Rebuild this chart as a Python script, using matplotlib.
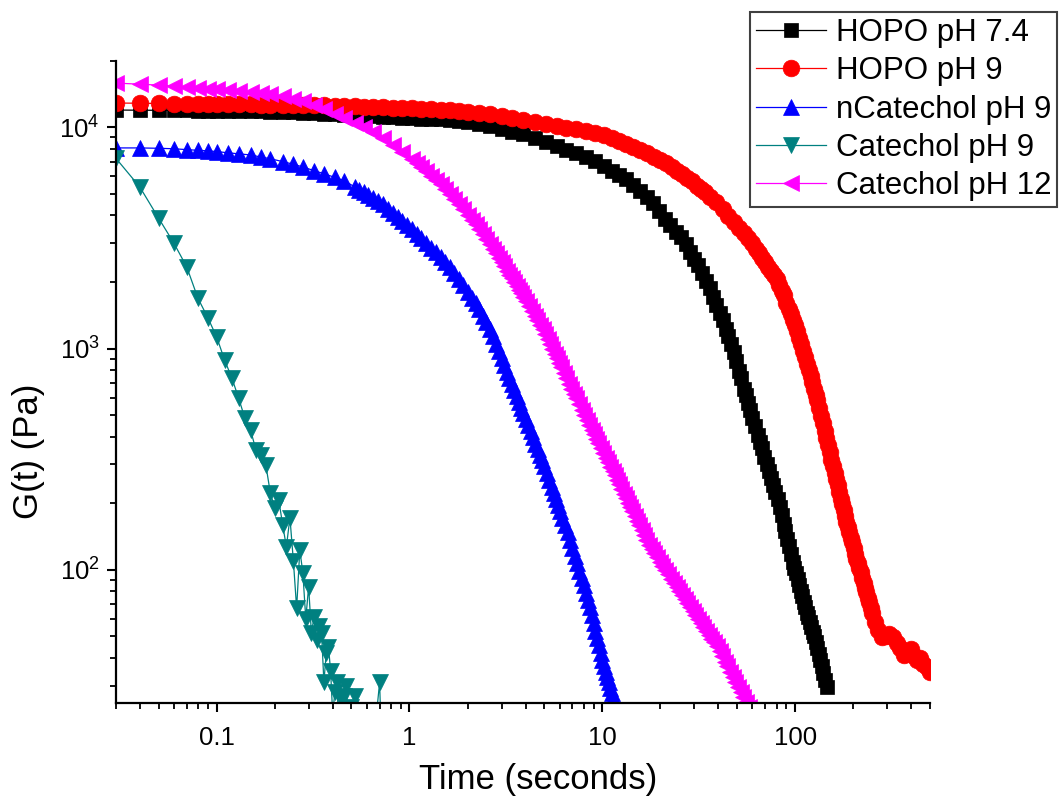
import matplotlib
matplotlib.use('Agg')
import matplotlib.pyplot as plt
from matplotlib.ticker import FixedLocator, FixedFormatter, LogLocator, NullFormatter

plt.rcParams['font.family'] = ['Liberation Sans', 'DejaVu Sans']
plt.rcParams['mathtext.fontset'] = 'custom'
plt.rcParams['mathtext.rm'] = 'Liberation Sans'
plt.rcParams['mathtext.it'] = 'Liberation Sans:italic'
plt.rcParams['mathtext.bf'] = 'Liberation Sans:bold'

# ---------------- data: (time in s, G(t) in Pa) ----------------
hopo_ph74 = [
    (0.03, 11970), (0.04, 11950), (0.05, 11940), (0.06, 11930), (0.07, 11920), (0.08, 11900),
    (0.09, 11890), (0.10, 11880), (0.115, 11860), (0.13, 11840), (0.15, 11820), (0.17, 11800),
    (0.19, 11780), (0.22, 11740), (0.25, 11690), (0.28, 11640), (0.32, 11590), (0.36, 11540),
    (0.41, 11480), (0.46, 11420), (0.52, 11360), (0.58, 11300), (0.65, 11240), (0.73, 11180),
    (0.82, 11110), (0.92, 11060), (1.03, 11010), (1.15, 10960), (1.3, 10920), (1.45, 10870),
    (1.62, 10790), (1.8, 10700), (2.0, 10600), (2.3, 10360), (2.6, 10120), (3.0, 9820),
    (3.4, 9570), (3.9, 9290), (4.5, 8950), (5.1, 8590), (5.8, 8230), (6.5, 7920), (7.3, 7620),
    (8.2, 7330), (9.2, 7030), (10.2, 6720), (11.2, 6380), (12.2, 6090), (13.3, 5810), (14.5, 5480),
    (15.7, 5160), (17, 4850), (18.3, 4540), (19.7, 4180), (21.1, 3870), (22.5, 3600), (24, 3380),
    (25.5, 3180), (27, 2960), (28.5, 2740), (30, 2550), (31.5, 2380), (33, 2190), (34.5, 2020),
    (36, 1870), (37.5, 1710), (39, 1570), (40.5, 1450), (42, 1340), (43.5, 1230), (45, 1140),
    (46.5, 1050), (48, 966), (49.5, 875), (51, 794), (52.5, 733), (54, 656), (55.5, 618),
    (57, 568), (58.5, 525), (60, 488), (62, 446), (64, 405), (65.5, 380), (67, 354), (69, 325),
    (71, 301), (73, 279), (75, 259), (77, 242), (79, 225), (81, 210), (83, 192), (85, 177),
    (87, 161), (89, 150), (91, 138), (93, 128), (95, 118), (97, 109), (99, 102), (101, 96.6),
    (103, 90.6), (105, 85.3), (107, 80.5), (109, 76), (111, 71.8), (113, 67.8), (115, 64),
    (117, 61), (119, 57.9), (121, 55), (123, 52.5), (125, 50), (127.5, 47.3), (130, 44.5),
    (132.5, 41.7), (135, 39), (137.5, 36.6), (140, 34.3), (143, 31.9), (146, 29.6),
]

hopo_ph9 = [
    (0.03, 12880), (0.04, 12850), (0.05, 12820), (0.06, 12800), (0.07, 12780), (0.08, 12760),
    (0.09, 12740), (0.10, 12730), (0.115, 12710), (0.13, 12700), (0.15, 12690), (0.17, 12680),
    (0.19, 12670), (0.22, 12660), (0.25, 12640), (0.28, 12620), (0.32, 12590), (0.36, 12560),
    (0.41, 12520), (0.46, 12480), (0.52, 12440), (0.58, 12400), (0.65, 12370), (0.73, 12330),
    (0.82, 12280), (0.92, 12230), (1.03, 12180), (1.15, 12140), (1.3, 12100), (1.45, 12030),
    (1.62, 11940), (1.8, 11850), (2.0, 11760), (2.3, 11620), (2.6, 11430), (3.0, 11200),
    (3.4, 11000), (3.9, 10790), (4.5, 10560), (5.1, 10350), (5.8, 10160), (6.5, 9980),
    (7.3, 9790), (8.2, 9620), (9.2, 9420), (10.2, 9190), (11.2, 8910), (12.2, 8670),
    (13.3, 8430), (14.5, 8170), (15.7, 7910), (17, 7640), (18.5, 7380), (20, 7140),
    (21.5, 6930), (23, 6640), (24.5, 6380), (26, 6140), (27.5, 5930), (29, 5710), (31, 5430),
    (32.5, 5250), (34, 5080), (36, 4860), (39, 4580), (42, 4280), (45, 3990), (48, 3750),
    (51, 3520), (54, 3340), (57, 3160), (60, 2990), (62.5, 2830), (65, 2690), (67.5, 2570),
    (70, 2450), (72.5, 2340), (75, 2240), (77.5, 2150), (80, 2060), (82.5, 1940), (85, 1820),
    (87.5, 1740), (90, 1610), (92.5, 1510), (95, 1430), (97.5, 1350), (100, 1280),
    (102.5, 1205), (105, 1120),
    (107.5, 1047), (110, 977), (112.5, 912), (115, 849), (117.5, 798), (120, 748), (122.5, 703),
    (125, 659), (127.5, 619), (130, 586), (133, 538), (136, 495), (139, 459), (142, 426),
    (145, 395), (148, 366), (151, 340), (154, 315), (157, 294), (160, 275), (163, 258),
    (166, 241), (169, 225), (172, 210), (175, 199), (178, 187), (181, 175),
    (184, 165), (187, 156), (190, 148), (193.5, 139), (197, 133), (200.5, 125), (204, 118),
    (207.5, 112), (211, 107), (214.5, 102), (218, 97.3), (222, 92.3), (226, 87.5), (230, 83),
    (234, 79.4), (238, 74.6), (242, 71.2), (246.5, 67.1), (251, 64), (260, 58.2), (270, 53.7),
    (282, 49.9), (295, 50.4),
    (308, 51.5), (322, 49.9), (336, 46.9), (350, 44.5), (365, 41.4), (380, 42.7), (396, 43.7),
    (412, 40.6), (428, 39.3), (445, 40.1), (462, 37.4), (480, 36.2), (498, 34.4),
]

ncatechol_ph9 = [
    (0.03, 8070), (0.04, 8070), (0.05, 8040), (0.06, 8000), (0.07, 7930), (0.08, 7870),
    (0.09, 7830), (0.10, 7770), (0.115, 7670), (0.13, 7590), (0.15, 7500), (0.17, 7340),
    (0.19, 7210), (0.22, 7000), (0.25, 6810), (0.28, 6620), (0.32, 6370), (0.36, 6170),
    (0.41, 5940), (0.46, 5730), (0.52, 5380), (0.55, 5230), (0.58, 5090), (0.61, 4950),
    (0.65, 4800), (0.69, 4640), (0.73, 4480), (0.77, 4290), (0.82, 4100), (0.87, 3930),
    (0.92, 3770), (0.97, 3620), (1.03, 3470), (1.09, 3310), (1.15, 3160), (1.22, 3000),
    (1.3, 2850), (1.37, 2720), (1.45, 2600), (1.53, 2470), (1.62, 2340), (1.71, 2200),
    (1.8, 2060), (1.9, 1930), (2.0, 1800), (2.1, 1700), (2.2, 1610), (2.3, 1505), (2.4, 1410),
    (2.5, 1315), (2.6, 1230), (2.7, 1135), (2.8, 1050), (2.9, 974), (3.0, 904), (3.1, 843),
    (3.2, 787), (3.3, 738), (3.4, 692), (3.5, 650), (3.6, 610), (3.7, 574), (3.8, 540),
    (3.9, 511), (4.0, 483), (4.12, 452), (4.25, 423), (4.37, 397), (4.5, 372), (4.62, 350),
    (4.75, 330), (4.87, 312), (5.0, 296), (5.15, 275), (5.3, 255), (5.45, 238), (5.6, 223),
    (5.75, 209), (5.9, 196), (6.05, 184), (6.2, 172), (6.4, 160), (6.6, 148), (6.8, 136),
    (7.0, 125), (7.2, 116), (7.4, 107), (7.6, 99), (7.8, 91.6), (8.0, 85), (8.2, 78.9),
    (8.4, 73), (8.6, 67.6), (8.8, 62.2), (9.0, 57.3), (9.2, 53), (9.4, 49), (9.6, 45.5),
    (9.8, 42.3), (10.0, 39.3), (10.2, 36.6), (10.4, 34.6), (10.6, 32.8), (10.8, 31),
    (11.0, 29.3), (11.2, 27.8), (11.4, 26.3), (11.6, 24.8), (11.8, 23.4), (12.2, 21),
]

catechol_ph9 = [
    (0.03, 7260), (0.04, 5370), (0.05, 3890), (0.06, 3000), (0.07, 2340), (0.08, 1690),
    (0.09, 1380), (0.10, 1130), (0.11, 888), (0.12, 736), (0.13, 598), (0.14, 486),
    (0.15, 428), (0.16, 348), (0.17, 330), (0.18, 298), (0.19, 222), (0.20, 191),
    (0.21, 207), (0.22, 160), (0.23, 127), (0.24, 172), (0.25, 110), (0.26, 67),
    (0.27, 123), (0.28, 97), (0.29, 60), (0.30, 84), (0.31, 52), (0.32, 61), (0.33, 48),
    (0.34, 56), (0.35, 52), (0.36, 31), (0.37, 42), (0.38, 45), (0.39, 35), (0.40, 22),
    (0.41, 28), (0.42, 31), (0.43, 20), (0.44, 26), (0.45, 19), (0.46, 27), (0.47, 30),
    (0.48, 21), (0.49, 18), (0.50, 24), (0.52, 27), (0.55, 18), (0.60, 21), (0.65, 16),
    (0.70, 31), (0.72, 14),
]

catechol_ph12 = [
    (0.03, 15850), (0.04, 15670), (0.05, 15520), (0.06, 15350), (0.07, 15210), (0.08, 15090),
    (0.09, 14960), (0.10, 14860), (0.115, 14720), (0.13, 14600), (0.15, 14420), (0.17, 14260),
    (0.19, 14100), (0.22, 13800), (0.25, 13430), (0.28, 13120), (0.32, 12650), (0.36, 12110),
    (0.41, 11530), (0.46, 11060), (0.52, 10510), (0.58, 10050), (0.65, 9570), (0.73, 8990),
    (0.82, 8350), (0.92, 7770), (1.03, 7210), (1.09, 6910), (1.15, 6620), (1.22, 6320),
    (1.3, 6030), (1.37, 5770), (1.45, 5520), (1.53, 5260), (1.62, 5020), (1.71, 4750),
    (1.8, 4500), (1.9, 4260), (2.0, 4030), (2.1, 3830), (2.2, 3640), (2.3, 3460), (2.4, 3290),
    (2.5, 3120), (2.6, 2960), (2.7, 2820), (2.8, 2690), (2.9, 2570), (3.0, 2450), (3.1, 2350),
    (3.2, 2250), (3.3, 2160), (3.4, 2080), (3.5, 1990), (3.6, 1910), (3.7, 1840), (3.8, 1780),
    (3.9, 1710), (4.0, 1640), (4.15, 1560), (4.3, 1480), (4.45, 1410), (4.6, 1340),
    (4.75, 1280), (4.9, 1220), (5.05, 1160), (5.2, 1100), (5.35, 1046), (5.5, 995),
    (5.65, 948), (5.8, 904), (5.95, 863), (6.1, 824), (6.3, 777), (6.5, 733), (6.7, 694),
    (6.9, 658), (7.1, 626), (7.3, 596), (7.55, 561), (7.8, 528), (8.05, 500), (8.3, 474),
    (8.55, 451), (8.8, 429), (9.05, 409), (9.3, 390), (9.55, 373), (9.8, 356), (10.1, 338),
    (10.4, 321), (10.7, 306), (11, 292), (11.3, 279), (11.6, 267), (11.9, 256), (12.2, 245),
    (12.55, 233), (12.9, 221), (13.25, 211), (13.6, 201), (13.95, 192), (14.3, 184),
    (14.7, 175), (15.1, 167), (15.55, 159), (16, 151), (16.45, 144), (16.9, 137), (17.45, 130),
    (18, 124), (18.6, 119), (19.2, 114), (19.85, 109), (20.5, 104), (21.25, 99.6), (22, 95.3),
    (22.75, 91.2), (23.5, 87.3), (24.25, 83.8), (25, 80.5), (25.85, 77.1), (26.7, 73.8),
    (27.6, 70.8), (28.5, 67.9), (29.45, 65.1), (30.4, 62.5), (31.4, 59.9), (32.4, 57.5),
    (33.45, 55.3), (34.5, 53.1), (35.65, 51), (36.8, 48.9), (38, 47), (39.2, 45.2),
    (40.5, 42.8), (41.8, 40.6), (43.15, 38.5), (44.5, 36.6), (45.95, 34.6), (47.4, 32.8),
    (48.95, 31.2), (50.5, 29.6), (52.15, 28.1), (53.8, 26.6), (55.55, 25.3), (57.3, 24),
    (59.1, 22.8), (61, 21.6),
]

series_labels = ['HOPO pH 7.4', 'HOPO pH 9', 'nCatechol pH 9', 'Catechol pH 9', 'Catechol pH 12']
series_data = [hopo_ph74, hopo_ph9, ncatechol_ph9, catechol_ph9, catechol_ph12]

x_tick_values = [0.1, 1, 10, 100]
x_tick_labels = ['0.1', '1', '10', '100']
y_tick_values = [100, 1000, 10000]
y_tick_labels = [r'$\mathdefault{10^{2}}$', r'$\mathdefault{10^{3}}$', r'$\mathdefault{10^{4}}$']

# ---------------- styling ----------------
colors = ['#000000', '#FF0000', '#0000FF', '#008080', '#FF00FF']
markers = ['s', 'o', '^', 'v', '<']
msizes = [9.5, 12, 12, 12, 12]

fig = plt.figure(figsize=(10.6, 8.01), dpi=100)
ax = fig.add_axes([0.1092, 0.1223, 0.7682, 0.8019])

for lab, data, c, m, ms in zip(series_labels, series_data, colors, markers, msizes):
    t = [p[0] for p in data]
    g = [p[1] for p in data]
    ax.plot(t, g, color=c, lw=0.9, marker=m, ms=ms, mfc=c, mec=c, mew=0.5, label=lab)

ax.set_xscale('log')
ax.set_yscale('log')
ax.set_xlim(0.03, 500)
ax.set_ylim(25, 20000)

ax.xaxis.set_major_locator(FixedLocator(x_tick_values))
ax.xaxis.set_major_formatter(FixedFormatter(x_tick_labels))
ax.xaxis.set_minor_locator(LogLocator(base=10, subs=(2, 3, 4, 5, 6, 7, 8, 9), numticks=20))
ax.xaxis.set_minor_formatter(NullFormatter())
ax.yaxis.set_major_locator(FixedLocator(y_tick_values))
ax.yaxis.set_major_formatter(FixedFormatter(y_tick_labels))
ax.yaxis.set_minor_locator(LogLocator(base=10, subs=(2, 3, 4, 5, 6, 7, 8, 9), numticks=20))
ax.yaxis.set_minor_formatter(NullFormatter())

for s in ['top', 'right']:
    ax.spines[s].set_visible(False)
for s in ['left', 'bottom']:
    ax.spines[s].set_linewidth(1.6)

ax.tick_params(which='major', direction='out', length=6.5, width=1.5, labelsize=18.5)
ax.tick_params(which='minor', direction='out', length=4.3, width=1.3)
ax.tick_params(axis='x', which='major', pad=10)
ax.tick_params(axis='y', which='major', pad=5)

ax.set_xlabel('Time (seconds)', fontsize=25)
ax.set_ylabel('G(t) (Pa)', fontsize=25)
ax.xaxis.set_label_coords(0.519, -0.093)
ax.yaxis.set_label_coords(-0.087, 0.392)

leg = ax.legend(loc='upper right', bbox_to_anchor=(0.997, 0.985), bbox_transform=fig.transFigure,
                fontsize=22.5, frameon=True, fancybox=False, edgecolor='#404040', framealpha=1,
                handlelength=2.25, handletextpad=0.3, borderpad=0.18, labelspacing=0.27,
                borderaxespad=0)
leg.get_frame().set_linewidth(1.5)

fig.savefig('out.png', dpi=100)
